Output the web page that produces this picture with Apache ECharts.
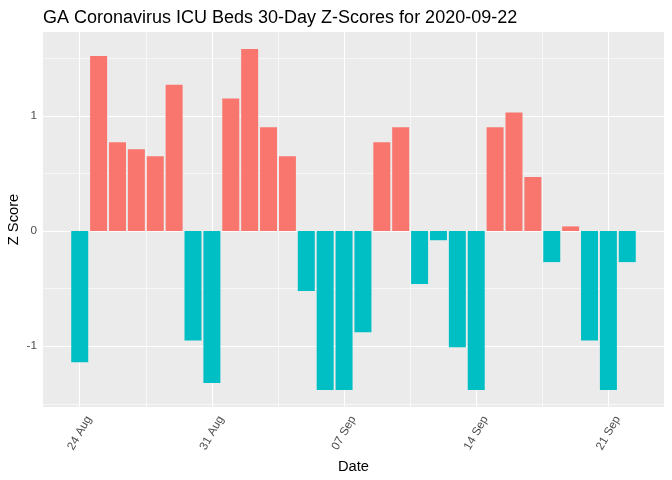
<!DOCTYPE html>
<html><head><meta charset="utf-8">
<script src="https://cdn.jsdelivr.net/npm/echarts@6/dist/echarts.min.js"></script>
<style>html,body{margin:0;padding:0;background:#fff}#c{width:672px;height:480px}</style>
</head><body><div id="c"></div>
<script>
const titleText = 'GA Coronavirus ICU Beds 30-Day Z-Scores for 2020-09-22';
const xAxisTitle = 'Date';
const yAxisTitle = 'Z Score';
const dates = [
  '2020-08-24','2020-08-25','2020-08-26','2020-08-27','2020-08-28','2020-08-29','2020-08-30',
  '2020-08-31','2020-09-01','2020-09-02','2020-09-03','2020-09-04','2020-09-05','2020-09-06',
  '2020-09-07','2020-09-08','2020-09-09','2020-09-10','2020-09-11','2020-09-12','2020-09-13',
  '2020-09-14','2020-09-15','2020-09-16','2020-09-17','2020-09-18','2020-09-19','2020-09-20',
  '2020-09-21','2020-09-22'
];
const zScores = [
  -1.14, 1.52, 0.77, 0.71, 0.65, 1.27, -0.95,
  -1.32, 1.15, 1.58, 0.90, 0.65, -0.52, -1.38,
  -1.38, -0.88, 0.77, 0.90, -0.46, -0.08, -1.01,
  -1.38, 0.90, 1.03, 0.47, -0.27, 0.04, -0.95,
  -1.38, -0.27
];
const tickDates = ['2020-08-24','2020-08-31','2020-09-07','2020-09-14','2020-09-21'];
const tickLabels = ['24 Aug','31 Aug','07 Sep','14 Sep','21 Sep'];
const yTicks = [-1, 0, 1];
const yTickLabels = ['-1', '0', '1'];

const DAY = 86400000;
const t0 = Date.parse(dates[0]);
const dayIdx = d => (Date.parse(d) - t0) / DAY;
const xs = dates.map(dayIdx);
const xTicks = tickDates.map(dayIdx);

// ggplot-like expansion
const halfBar = 0.45;
const xLo = Math.min(...xs) - halfBar, xHi = Math.max(...xs) + halfBar;
const xPad = (xHi - xLo) * 0.05;
const xMin = xLo - xPad, xMax = xHi + xPad;
const yLo = Math.min(0, ...zScores), yHi = Math.max(0, ...zScores);
const yPad = (yHi - yLo) * 0.05;
const yMin = yLo - yPad, yMax = yHi + yPad;

function minorOf(ticks, lo, hi) {
  const step = ticks[1] - ticks[0];
  const out = [];
  for (let v = ticks[0] - step / 2; v >= lo; v -= step) out.push(v);
  for (let i = 0; i < ticks.length; i++) {
    const v = ticks[i] + step / 2;
    if (v <= hi) out.push(v);
  }
  return out;
}
const xMinor = minorOf(xTicks, xMin, xMax);
const yMinor = minorOf(yTicks, yMin, yMax);

const RED = '#F8766D', CYAN = '#00BFC4';
const gridLines = [];
xMinor.forEach(v => gridLines.push({ xAxis: v, lineStyle: { width: 0.6 } }));
yMinor.forEach(v => gridLines.push({ yAxis: v, lineStyle: { width: 0.6 } }));
xTicks.forEach(v => gridLines.push({ xAxis: v, lineStyle: { width: 1.1 } }));
yTicks.forEach(v => gridLines.push({ yAxis: v, lineStyle: { width: 1.1 } }));

const GRID = { left: 43, right: 8, top: 32, bottom: 73 };
const W = 672, H = 480;

const chart = echarts.init(document.getElementById('c'), null, { renderer: 'canvas' });
const FONT = 'Liberation Sans, Arial, sans-serif';
chart.setOption({
  animation: false,
  textStyle: { fontFamily: FONT },
  title: {
    text: titleText, left: 38, top: 4,
    textStyle: { fontFamily: FONT, fontSize: 18, fontWeight: 'normal', color: '#000' }
  },
  graphic: [{
    type: 'text', silent: true,
    x: 14, y: GRID.top + (H - GRID.top - GRID.bottom) / 2, rotation: Math.PI / 2,
    style: {
      text: yAxisTitle, fill: '#000', font: '14.7px ' + FONT,
      align: 'center', verticalAlign: 'middle'
    }
  }],
  grid: {
    left: GRID.left, right: GRID.right, top: GRID.top, bottom: GRID.bottom,
    outerBoundsMode: 'none', containLabel: false,
    show: true, backgroundColor: '#EBEBEB', borderWidth: 0
  },
  xAxis: {
    type: 'value', min: xMin, max: xMax,
    name: xAxisTitle, nameLocation: 'middle', nameGap: 52,
    nameTextStyle: { fontFamily: FONT, fontSize: 14.7, color: '#000' },
    axisLine: { show: false },
    axisTick: { show: true, length: 3.7, lineStyle: { color: '#333', width: 1.07 }, customValues: xTicks },
    axisLabel: {
      show: true, rotate: 60, margin: 26, align: 'center', verticalAlign: 'middle',
      color: '#4D4D4D', fontSize: 11.7, fontFamily: FONT,
      customValues: xTicks,
      formatter: v => { const i = xTicks.findIndex(t => Math.abs(t - v) < 1e-6); return i >= 0 ? tickLabels[i] : ''; }
    },
    splitLine: { show: false }
  },
  yAxis: {
    type: 'value', min: yMin, max: yMax,
    axisLine: { show: false },
    axisTick: { show: true, length: 3.7, lineStyle: { color: '#333', width: 1.07 }, customValues: yTicks },
    axisLabel: {
      show: true, margin: 6, color: '#4D4D4D', fontSize: 11.7, fontFamily: FONT,
      customValues: yTicks,
      formatter: v => { const i = yTicks.findIndex(t => Math.abs(t - v) < 1e-6); return i >= 0 ? yTickLabels[i] : ''; }
    },
    splitLine: { show: false }
  },
  series: [{
    type: 'bar', z: 2,
    barWidth: 17,
    data: xs.map((x, i) => ({ value: [x, zScores[i]], itemStyle: { color: zScores[i] >= 0 ? RED : CYAN } })),
    markLine: {
      z: 1, silent: true, symbol: ['none', 'none'], animation: false,
      label: { show: false },
      lineStyle: { color: '#FFFFFF', type: 'solid', width: 1.1 },
      emphasis: { disabled: true },
      data: gridLines
    }
  }]
});
</script></body></html>
